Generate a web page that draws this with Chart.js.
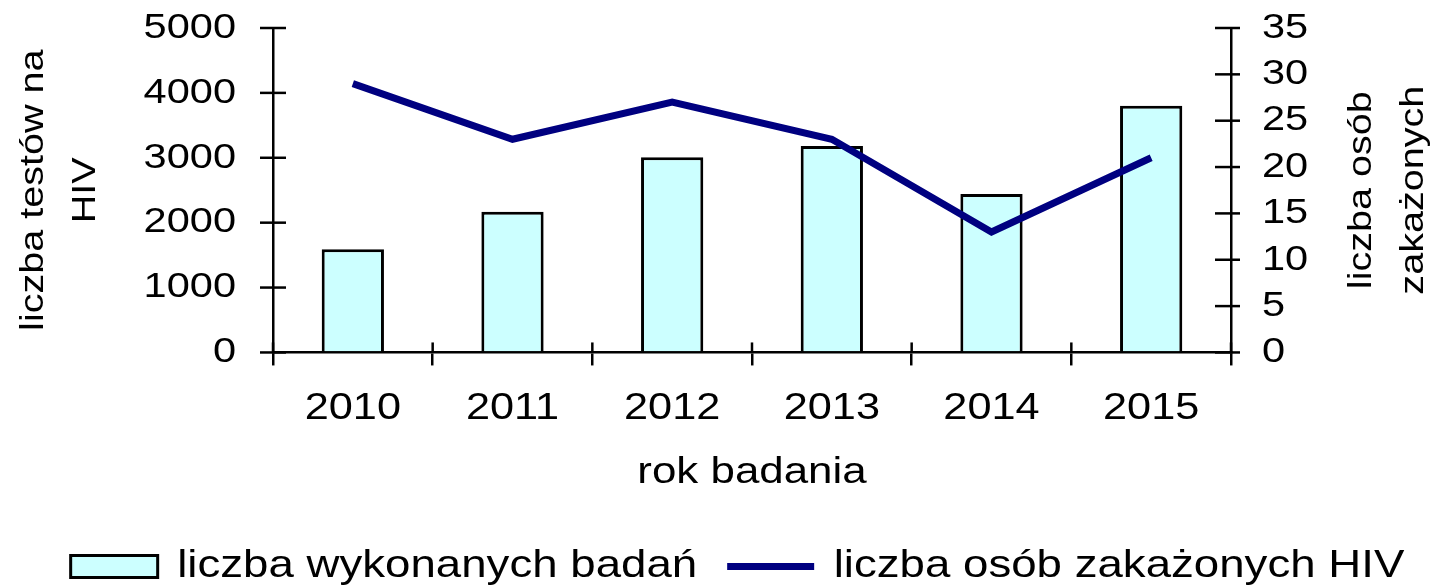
<!DOCTYPE html>
<html>
<head>
<meta charset="utf-8">
<script src="https://cdn.jsdelivr.net/npm/chart.js@4"></script>
<style>
  html, body { margin: 0; padding: 0; background: #fff; overflow: hidden; }
  #wrap { width: 1437px; height: 586px; position: relative; }
</style>
</head>
<body>
<div id="wrap"><canvas id="c"></canvas></div>
<script>
// ---- data ----
const years = ['2010', '2011', '2012', '2013', '2014', '2015'];
const testsDone = [1590, 2170, 3010, 3180, 2440, 3800];
const infected = [29, 23, 27, 23, 13, 21];
const leftTickLabels = ['0', '1000', '2000', '3000', '4000', '5000'];
const rightTickLabels = ['0', '5', '10', '15', '20', '25', '30', '35'];
const barLabel = 'liczba wykonanych badań';
const lineLabel = 'liczba osób zakażonych HIV';
const xTitle = 'rok badania';
const leftTitle = ['liczba testów na', 'HIV'];
const rightTitle = ['liczba osób', 'zakażonych'];

// ---- styling ----
const FONT = '"Liberation Sans", Arial, sans-serif';
const SX = 1.17; // horizontal glyph stretch seen in the reference
const TITLE_SIZE = 33.8;
const TITLE_LH = 52;

const canvas = document.getElementById('c');
const ctx = canvas.getContext('2d');
// widen glyphs along the text direction (reference font is wider than Arial)
(function stretch(c) {
  const fill = c.fillText.bind(c);
  const measure = c.measureText.bind(c);
  c.fillText = function (t, x, y, mw) {
    c.save();
    c.translate(x, y);
    c.scale(SX, 1);
    if (mw !== undefined) fill(t, 0, 0, mw / SX); else fill(t, 0, 0);
    c.restore();
  };
  c.measureText = function (t) {
    const m = measure(t);
    return {
      width: m.width * SX,
      actualBoundingBoxLeft: m.actualBoundingBoxLeft * SX,
      actualBoundingBoxRight: m.actualBoundingBoxRight * SX,
      actualBoundingBoxAscent: m.actualBoundingBoxAscent,
      actualBoundingBoxDescent: m.actualBoundingBoxDescent,
      fontBoundingBoxAscent: m.fontBoundingBoxAscent,
      fontBoundingBoxDescent: m.fontBoundingBoxDescent
    };
  };
})(ctx);

Chart.defaults.font.family = FONT;
Chart.defaults.color = '#000';

const extras = {
  id: 'extras',
  afterDraw(chart) {
    const c = chart.ctx;
    const {x, y, y1} = chart.scales;
    c.save();
    c.strokeStyle = '#000';
    c.lineWidth = 2.5;
    const seg = (x0, y0, x2, y2) => { c.beginPath(); c.moveTo(x0, y0); c.lineTo(x2, y2); c.stroke(); };
    // tick marks crossing the axes
    y.ticks.forEach((t, i) => { const p = y.getPixelForTick(i); seg(y.right - 13, p, y.right + 13, p); });
    y1.ticks.forEach((t, i) => { const p = y1.getPixelForTick(i); seg(y1.left - 16, p, y1.left + 9, p); });
    for (let i = 0; i <= years.length; i++) {
      const p = x.getPixelForValue(i - 0.5);
      seg(p, x.top - 10, p, x.top);
    }
    // axis titles, both reading bottom-to-top
    c.fillStyle = '#000';
    c.font = TITLE_SIZE + 'px ' + FONT;
    c.textAlign = 'center';
    c.textBaseline = 'middle';
    const cy = (y.top + y.bottom) / 2;
    const rot = (text, px) => { c.save(); c.translate(px, cy); c.rotate(-Math.PI / 2); c.fillText(text, 0, 0); c.restore(); };
    const lx = 7.3 + TITLE_LH / 2;
    leftTitle.forEach((t, i) => rot(t, lx + i * TITLE_LH));
    const rx = chart.width - 23.2 - TITLE_LH * (rightTitle.length - 1);
    rightTitle.forEach((t, i) => rot(t, rx + i * TITLE_LH));
    c.restore();
  }
};

new Chart(ctx, {
  data: {
    labels: years,
    datasets: [
      {
        type: 'bar',
        label: barLabel,
        data: testsDone,
        backgroundColor: '#CCFFFF',
        borderColor: '#000000',
        borderWidth: 3,
        barPercentage: 0.39,
        categoryPercentage: 1,
        yAxisID: 'y',
        order: 2
      },
      {
        type: 'line',
        label: lineLabel,
        data: infected,
        borderColor: '#000080',
        backgroundColor: '#000080',
        borderWidth: 7,
        borderJoinStyle: 'miter',
        pointRadius: 0,
        pointHoverRadius: 0,
        pointStyle: 'line',
        tension: 0,
        yAxisID: 'y1',
        order: 1
      }
    ]
  },
  options: {
    responsive: true,
    maintainAspectRatio: false,
    animation: false,
    layout: { padding: { left: 38, right: 0, top: 28, bottom: -10 } },
    plugins: {
      tooltip: { enabled: false },
      legend: {
        display: true,
        position: 'bottom',
        labels: {
          usePointStyle: true,
          pointStyleWidth: 87,
          boxHeight: 22,
          padding: 30,
          color: '#000',
          font: { size: 39 },
          generateLabels(chart) {
            const items = Chart.defaults.plugins.legend.labels.generateLabels(chart);
            items.sort((a, b) => a.datasetIndex - b.datasetIndex);
            items.forEach(it => {
              if (it.datasetIndex === 0) { it.pointStyle = 'rect'; it.lineWidth = 3; it.strokeStyle = '#000'; it.fillStyle = '#CCFFFF'; }
              else { it.pointStyle = 'line'; it.lineWidth = 7; it.strokeStyle = '#000080'; it.fillStyle = '#000080'; }
            });
            return items;
          }
        }
      }
    },
    scales: {
      x: {
        offset: true,
        grid: { display: true, drawOnChartArea: false, drawTicks: true, tickLength: 13, color: '#000', lineWidth: 2.5, offset: true },
        border: { display: true, color: '#000', width: 2.5 },
        ticks: { color: '#000', font: { size: 37 }, padding: 21.3, maxRotation: 0, autoSkip: false },
        title: { display: true, text: xTitle, color: '#000', font: { size: 37.5, lineHeight: 1.1 }, padding: { top: 0, bottom: 23.3 } }
      },
      y: {
        position: 'left',
        min: 0,
        max: 5000,
        grid: { display: true, drawOnChartArea: false, drawTicks: true, tickLength: 37, tickColor: 'rgba(0,0,0,0)', lineWidth: 2.5 },
        border: { display: true, color: '#000', width: 2.5 },
        ticks: { stepSize: 1000, color: '#000', font: { size: 35.5 }, padding: 0, autoSkip: false,
                 callback: (v, i) => leftTickLabels[i] },
        afterFit(s) { s.width += 105.6; }
      },
      y1: {
        position: 'right',
        min: 0,
        max: 35,
        grid: { display: true, drawOnChartArea: false, drawTicks: true, tickLength: 31, tickColor: 'rgba(0,0,0,0)', lineWidth: 2.5 },
        border: { display: true, color: '#000', width: 2.5 },
        ticks: { stepSize: 5, color: '#000', font: { size: 35.5 }, padding: 0, autoSkip: false,
                 callback: (v, i) => rightTickLabels[i] },
        afterFit(s) { s.width += 128.8; }
      }
    }
  },
  plugins: [extras]
});
</script>
</body>
</html>
